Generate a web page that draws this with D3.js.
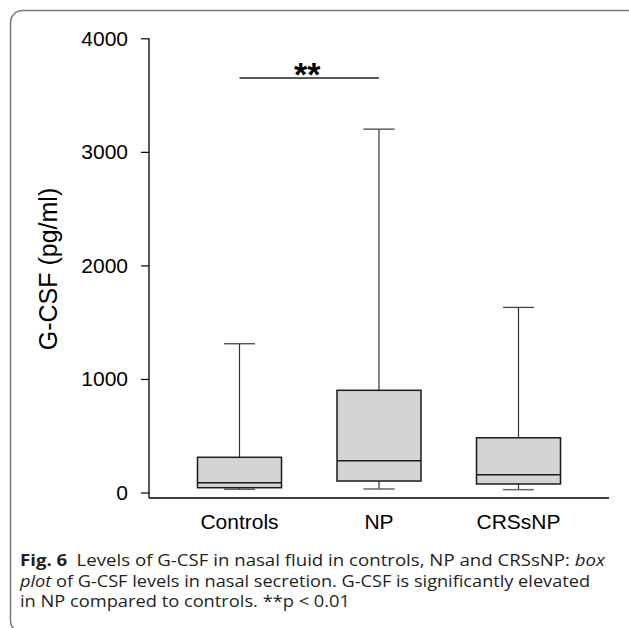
<!DOCTYPE html>
<html>
<head>
<meta charset="utf-8">
<script src="https://cdn.jsdelivr.net/npm/d3@7"></script>
<style>
  html, body { margin: 0; padding: 0; background: #fff; }
  svg { display: block; }
</style>
</head>
<body>
<script>
// ---- data ----
const categories = ["Controls", "NP", "CRSsNP"];
const whiskerLow  = [28, 31, 25];
const q1          = [42, 101, 75];
const median      = [86, 280, 157];
const q3          = [310, 900, 482];
const whiskerHigh = [1310, 3200, 1630];
const yTicks = [0, 1000, 2000, 3000, 4000];
const yLabel = "G-CSF (pg/ml)";
const sigPair = ["Controls", "NP"];
const sigLabel = "**";

const W = 629, H = 628;
const svg = d3.select("body").append("svg").attr("width", W).attr("height", H);

// frame
svg.append("rect")
  .attr("x", 10.5).attr("y", 10.5)
  .attr("width", 640).attr("height", 622)
  .attr("rx", 12).attr("ry", 12)
  .attr("fill", "none").attr("stroke", "#7a7a7a").attr("stroke-width", 1.5);

const y = d3.scaleLinear().domain([0, 4000]).range([492.5, 38.3]);
const x = d3.scalePoint().domain(categories).range([239.5, 518.5]);

const axisX0 = 149, axisY0 = 498, axisXEnd = 609;
const font = "'Liberation Sans', Arial, sans-serif";

// y axis
const yAxis = svg.append("g").attr("transform", `translate(${axisX0},0)`)
  .call(d3.axisLeft(y).tickValues(yTicks).tickSize(8).tickPadding(13).tickFormat(d3.format("d")));
yAxis.select(".domain").remove();
yAxis.selectAll(".tick line").attr("stroke", "#000").attr("stroke-width", 1.2);
yAxis.selectAll(".tick text").attr("font-family", font).attr("font-size", 21).attr("fill", "#000");
svg.append("line").attr("x1", axisX0).attr("x2", axisX0).attr("y1", y(4000)).attr("y2", axisY0)
  .attr("stroke", "#000").attr("stroke-width", 1.3);
// x axis line
svg.append("line").attr("x1", axisX0).attr("x2", axisXEnd).attr("y1", axisY0).attr("y2", axisY0)
  .attr("stroke", "#000").attr("stroke-width", 1.3);

// category labels
svg.append("g").selectAll("text").data(categories).join("text")
  .attr("x", d => x(d)).attr("y", 528.5)
  .attr("text-anchor", "middle").attr("font-family", font).attr("font-size", 21)
  .attr("fill", "#000").text(d => d);

// y label
svg.append("text")
  .attr("transform", `translate(57,269) rotate(-90)`)
  .attr("text-anchor", "middle").attr("font-family", font).attr("font-size", 25)
  .attr("fill", "#000").text(yLabel);

// boxes
const boxW = 84, capW = 31;
const g = svg.append("g");
categories.forEach((c, i) => {
  const cx = x(c);
  // upper whisker
  g.append("line").attr("x1", cx).attr("x2", cx).attr("y1", y(whiskerHigh[i])).attr("y2", y(q3[i]))
    .attr("stroke", "#333").attr("stroke-width", 1.2);
  g.append("line").attr("x1", cx - capW/2).attr("x2", cx + capW/2).attr("y1", y(whiskerHigh[i])).attr("y2", y(whiskerHigh[i]))
    .attr("stroke", "#444").attr("stroke-width", 1.3);
  // lower whisker
  g.append("line").attr("x1", cx).attr("x2", cx).attr("y1", y(q1[i])).attr("y2", y(whiskerLow[i]))
    .attr("stroke", "#333").attr("stroke-width", 1.2);
  g.append("line").attr("x1", cx - capW/2).attr("x2", cx + capW/2).attr("y1", y(whiskerLow[i])).attr("y2", y(whiskerLow[i]))
    .attr("stroke", "#666").attr("stroke-width", 1.5);
  // box
  g.append("rect").attr("x", cx - boxW/2).attr("y", y(q3[i]))
    .attr("width", boxW).attr("height", y(q1[i]) - y(q3[i]))
    .attr("fill", "#d3d4d3").attr("stroke", "#1a1a1a").attr("stroke-width", 1.5);
  g.append("line").attr("x1", cx - boxW/2).attr("x2", cx + boxW/2).attr("y1", y(median[i])).attr("y2", y(median[i]))
    .attr("stroke", "#1a1a1a").attr("stroke-width", 1.5);
});

// significance bar
const sx1 = x(sigPair[0]), sx2 = x(sigPair[1]);
svg.append("line").attr("x1", sx1).attr("x2", sx2).attr("y1", 78).attr("y2", 78)
  .attr("stroke", "#222").attr("stroke-width", 1.6);
svg.append("text").attr("x", (sx1 + sx2) / 2 - 2).attr("y", 86)
  .attr("text-anchor", "middle").attr("font-family", font).attr("font-weight", "bold")
  .attr("font-size", 34).attr("fill", "#000").text(sigLabel);

// caption
const capFont = "'Open Sans', 'Noto Sans', sans-serif";
const cap = svg.append("g").attr("font-family", capFont).attr("font-size", 15.5).attr("fill", "#231f20");
const l1 = cap.append("text").attr("x", 20).attr("y", 566).attr("textLength", 585).attr("lengthAdjust", "spacingAndGlyphs");
l1.append("tspan").attr("font-weight", "bold").text("Fig. 6");
l1.append("tspan").text("\u2002Levels of G-CSF in nasal fluid in controls, NP and CRSsNP: ");
l1.append("tspan").attr("font-style", "italic").text("box");
const l2 = cap.append("text").attr("x", 20).attr("y", 586.5).attr("textLength", 570).attr("lengthAdjust", "spacingAndGlyphs");
l2.append("tspan").attr("font-style", "italic").text("plot");
l2.append("tspan").text(" of G-CSF levels in nasal secretion. G-CSF is significantly elevated");
cap.append("text").attr("x", 20).attr("y", 607).attr("textLength", 330).attr("lengthAdjust", "spacingAndGlyphs")
  .text("in NP compared to controls. **p < 0.01");
</script>
</body>
</html>
